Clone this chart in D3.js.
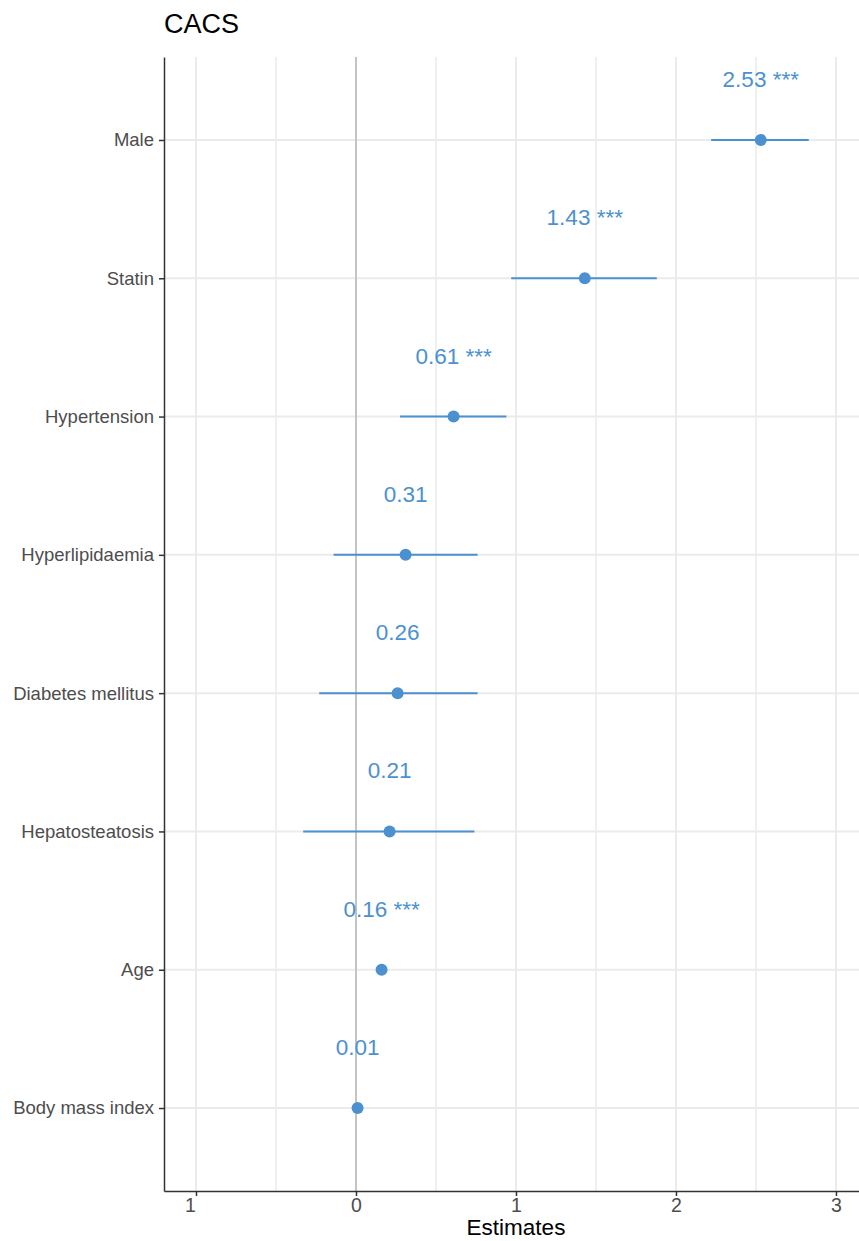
<!DOCTYPE html>
<html>
<head>
<meta charset="utf-8">
<script src="https://cdn.jsdelivr.net/npm/d3@7"></script>
<style>
  html, body { margin: 0; padding: 0; background: #fff; }
  svg { display: block; font-family: "Liberation Sans", Arial, sans-serif; }
</style>
</head>
<body>
<svg id="chart" width="859" height="1241"></svg>
<script>
// Regression estimates with confidence intervals
const terms = ["Male", "Statin", "Hypertension", "Hyperlipidaemia", "Diabetes mellitus", "Hepatosteatosis", "Age", "Body mass index"];
const estimates = [2.53, 1.43, 0.61, 0.31, 0.26, 0.21, 0.16, 0.01];
const ciLow = [2.22, 0.97, 0.275, -0.14, -0.23, -0.33, 0.15, 0.005];
const ciHigh = [2.83, 1.88, 0.94, 0.76, 0.76, 0.74, 0.17, 0.015];
const stars = ["***", "***", "***", "", "", "", "***", ""];
const xTicks = [-1, 0, 1, 2, 3];
const xTickLabels = ["1", "0", "1", "2", "3"];
const xMinorTicks = [-0.5, 0.5, 1.5, 2.5];

const rows = terms.map((t, i) => ({ term: t, est: estimates[i], lo: ciLow[i], hi: ciHigh[i], star: stars[i] }));

const svg = d3.select("#chart");
const margin = { left: 164, right: 0, top: 57, bottom: 50 };
const W = 859, H = 1241;
const pw = W - margin.left - margin.right;
const ph = H - margin.top - margin.bottom;

const col = "#4c91cf";

const x = d3.scaleLinear().domain([-1.2, 3.144]).range([0, pw]);
const y = d3.scalePoint().domain(terms).range([0, ph]).padding(0.6);

const g = svg.append("g").attr("transform", `translate(${margin.left},${margin.top})`);

// grid
g.selectAll("line.minor").data(xMinorTicks).join("line")
  .attr("x1", d => x(d)).attr("x2", d => x(d)).attr("y1", 0).attr("y2", ph)
  .attr("stroke", "#ebebeb").attr("stroke-width", 1.5);
g.selectAll("line.major").data(xTicks).join("line")
  .attr("x1", d => x(d)).attr("x2", d => x(d)).attr("y1", 0).attr("y2", ph)
  .attr("stroke", "#ebebeb").attr("stroke-width", 2);
g.selectAll("line.hgrid").data(terms).join("line")
  .attr("x1", 0).attr("x2", pw).attr("y1", d => y(d)).attr("y2", d => y(d))
  .attr("stroke", "#ebebeb").attr("stroke-width", 2);

// zero reference line
g.append("line").attr("x1", x(0)).attr("x2", x(0)).attr("y1", 0).attr("y2", ph)
  .attr("stroke", "#c4c4c4").attr("stroke-width", 2);

// axes
const xAxis = d3.axisBottom(x).tickValues(xTicks).tickSizeInner(5).tickSizeOuter(0).tickPadding(2)
  .tickFormat((d, i) => xTickLabels[i]);
const gx = g.append("g").attr("transform", `translate(0,${ph})`).call(xAxis);
gx.select(".domain").attr("stroke", "#333").attr("stroke-width", 1.5);
gx.selectAll(".tick line").attr("stroke", "#333").attr("stroke-width", 1.5);
gx.selectAll(".tick text").attr("fill", "#4d4d4d").style("font-size", "19.5px")
  .attr("dx", (d, i) => i === 0 ? -6 : 0);

const yAxis = d3.axisLeft(y).tickSizeInner(5).tickSizeOuter(0).tickPadding(5);
const gy = g.append("g").call(yAxis);
gy.select(".domain").attr("stroke", "#333").attr("stroke-width", 1.5);
gy.selectAll(".tick line").attr("stroke", "#333").attr("stroke-width", 1.5);
gy.selectAll(".tick text").attr("fill", "#4d4d4d").style("font-size", "18.5px");

// error bars
g.selectAll("line.ci").data(rows).join("line")
  .attr("x1", d => x(d.lo)).attr("x2", d => x(d.hi))
  .attr("y1", d => y(d.term)).attr("y2", d => y(d.term))
  .attr("stroke", col).attr("stroke-width", 2);

// points
g.selectAll("circle.pt").data(rows).join("circle")
  .attr("cx", d => x(d.est)).attr("cy", d => y(d.term)).attr("r", 6)
  .attr("fill", col);

// value labels
g.selectAll("text.val").data(rows).join("text")
  .attr("x", d => x(d.est)).attr("y", d => y(d.term) - 53)
  .attr("text-anchor", "middle").attr("fill", col).style("font-size", "22.5px")
  .text(d => d.est.toFixed(2) + (d.star ? " " + d.star : ""));

// title
svg.append("text").attr("x", margin.left).attr("y", 33)
  .attr("fill", "#000").style("font-size", "27px").text("CACS");

// axis title
svg.append("text").attr("x", 516).attr("y", 1235)
  .attr("text-anchor", "middle").attr("fill", "#000").style("font-size", "22.5px")
  .text("Estimates");
</script>
</body>
</html>
